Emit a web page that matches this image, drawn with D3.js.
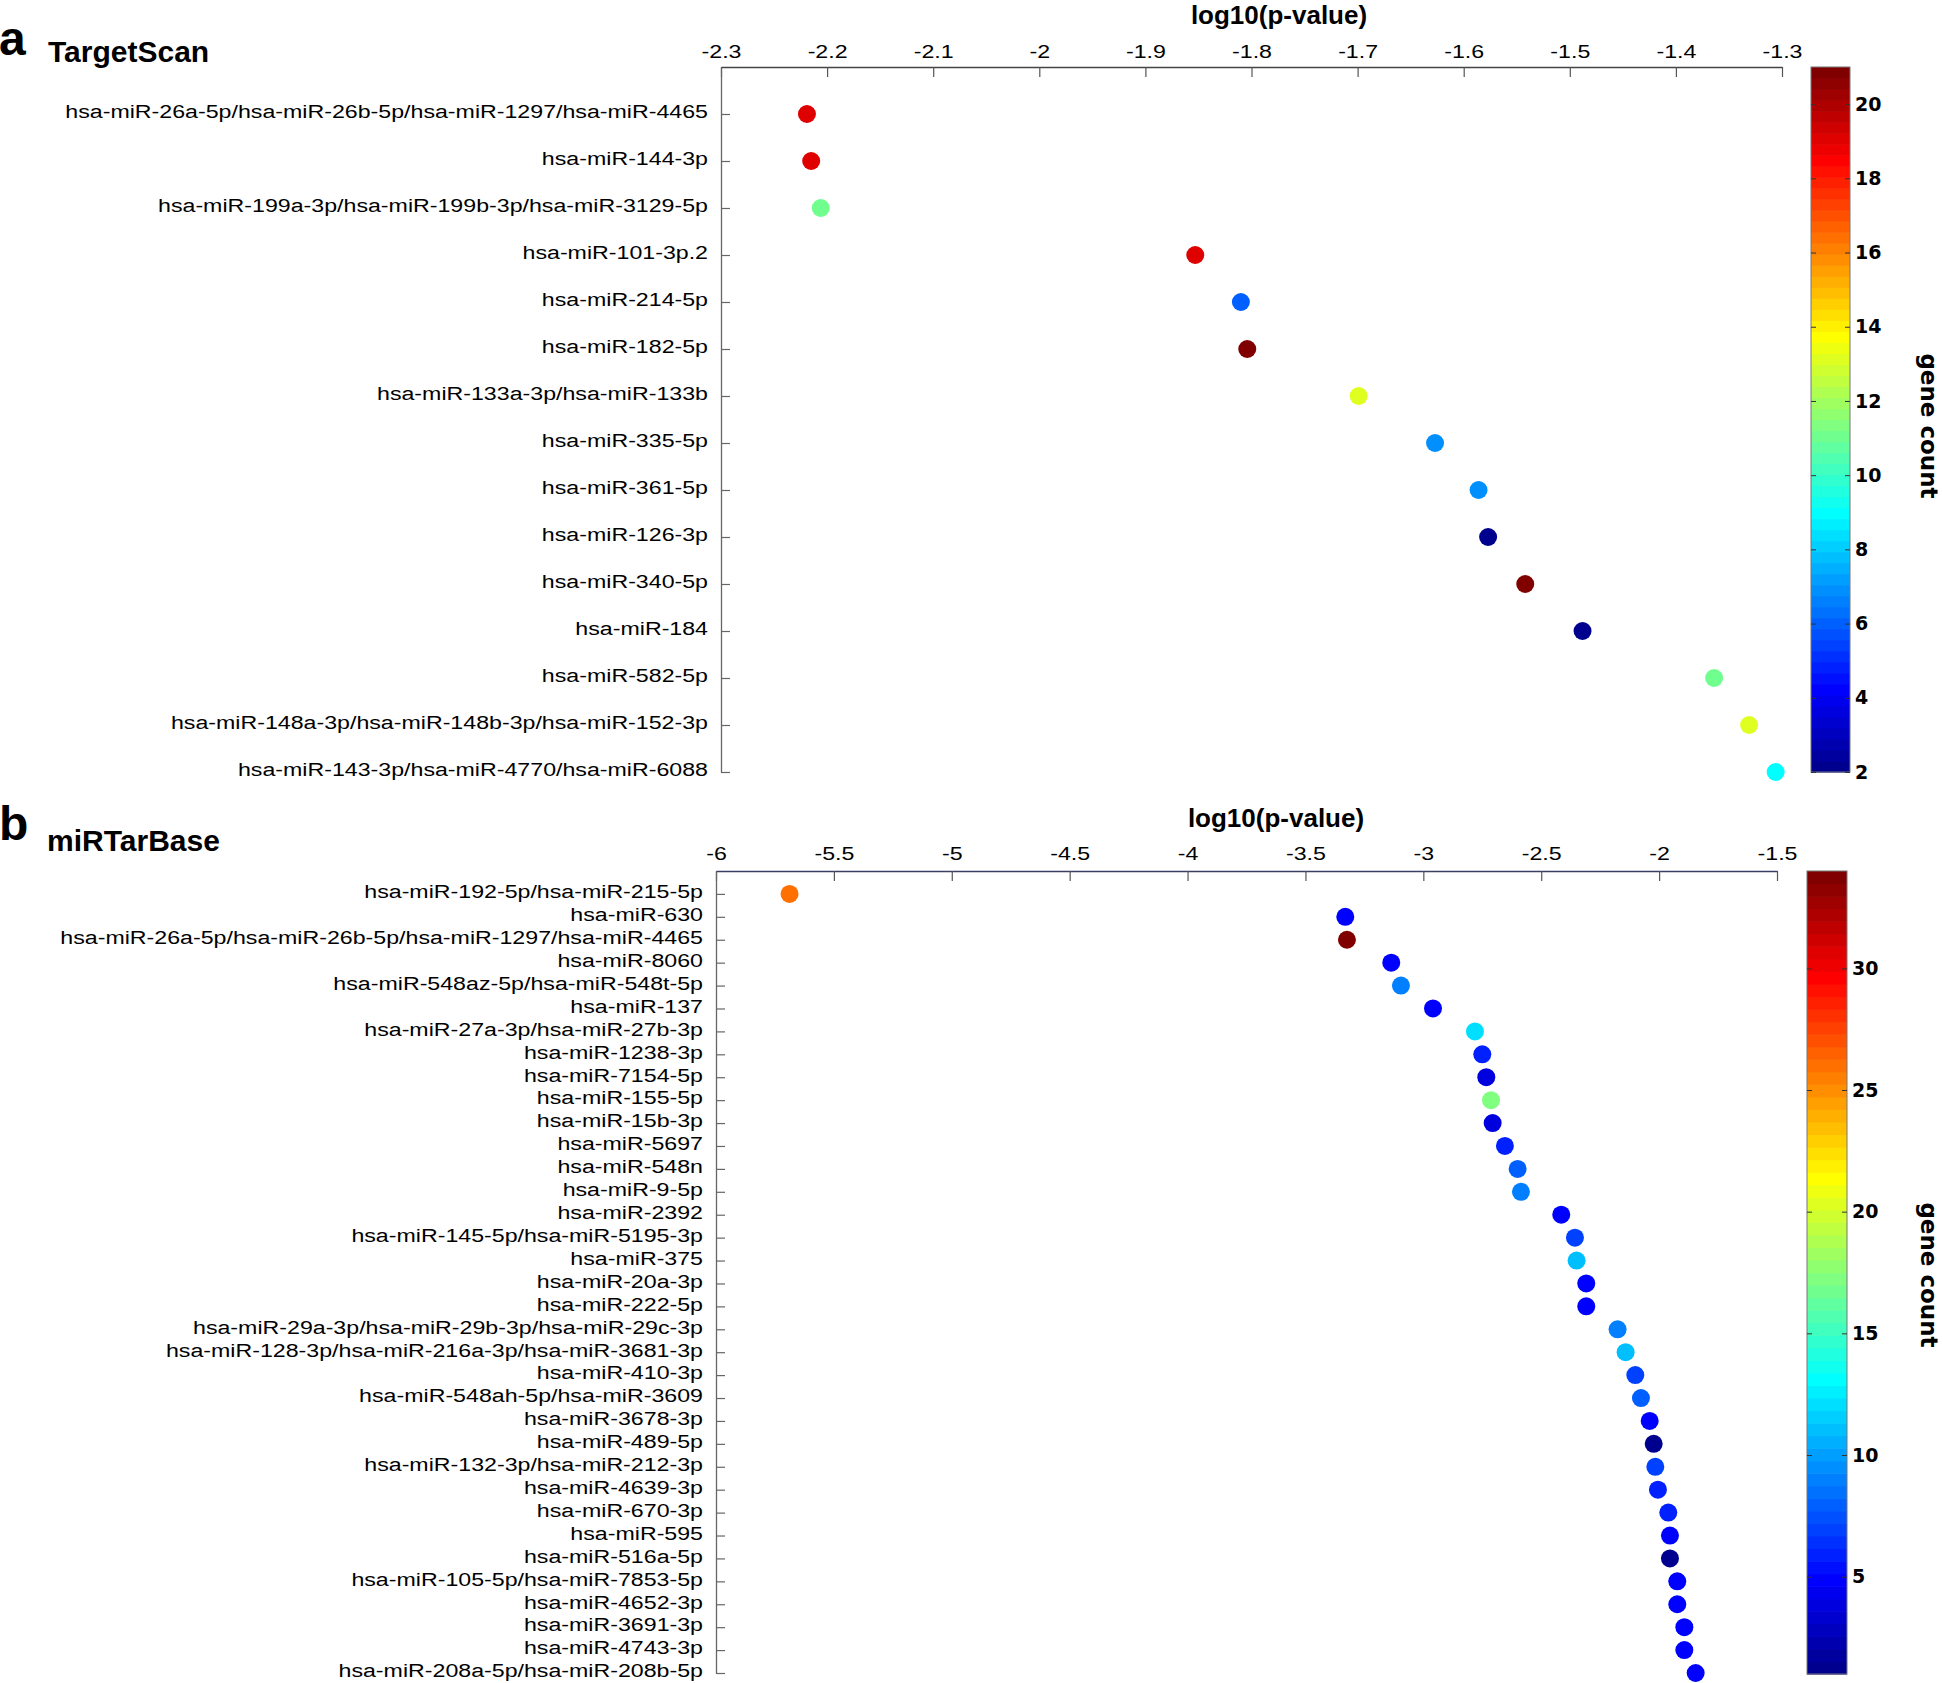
<!DOCTYPE html>
<html>
<head>
<meta charset="utf-8">
<script src="https://cdn.jsdelivr.net/npm/d3@7"></script>
<style>
  html, body { margin: 0; padding: 0; background: #fff; }
  svg { display: block; }
</style>
</head>
<body>
<svg id="chart" width="1943" height="1683"></svg>
<script>
// ---------------- DATA ----------------
const tsLabels = [
  "hsa-miR-26a-5p/hsa-miR-26b-5p/hsa-miR-1297/hsa-miR-4465",
  "hsa-miR-144-3p",
  "hsa-miR-199a-3p/hsa-miR-199b-3p/hsa-miR-3129-5p",
  "hsa-miR-101-3p.2",
  "hsa-miR-214-5p",
  "hsa-miR-182-5p",
  "hsa-miR-133a-3p/hsa-miR-133b",
  "hsa-miR-335-5p",
  "hsa-miR-361-5p",
  "hsa-miR-126-3p",
  "hsa-miR-340-5p",
  "hsa-miR-184",
  "hsa-miR-582-5p",
  "hsa-miR-148a-3p/hsa-miR-148b-3p/hsa-miR-152-3p",
  "hsa-miR-143-3p/hsa-miR-4770/hsa-miR-6088"
];
const tsLogP = [-2.219, -2.215, -2.206, -1.853, -1.810, -1.804, -1.699, -1.627, -1.586, -1.577, -1.542, -1.488, -1.364, -1.331, -1.306];
const tsCount = [19, 19, 11, 19, 6, 21, 13, 7, 7, 2, 21, 2, 11, 13, 9];
const tsTicks = [-2.3, -2.2, -2.1, -2, -1.9, -1.8, -1.7, -1.6, -1.5, -1.4, -1.3];
const tsCbTicks = [2, 4, 6, 8, 10, 12, 14, 16, 18, 20];

const mtLabels = [
  "hsa-miR-192-5p/hsa-miR-215-5p",
  "hsa-miR-630",
  "hsa-miR-26a-5p/hsa-miR-26b-5p/hsa-miR-1297/hsa-miR-4465",
  "hsa-miR-8060",
  "hsa-miR-548az-5p/hsa-miR-548t-5p",
  "hsa-miR-137",
  "hsa-miR-27a-3p/hsa-miR-27b-3p",
  "hsa-miR-1238-3p",
  "hsa-miR-7154-5p",
  "hsa-miR-155-5p",
  "hsa-miR-15b-3p",
  "hsa-miR-5697",
  "hsa-miR-548n",
  "hsa-miR-9-5p",
  "hsa-miR-2392",
  "hsa-miR-145-5p/hsa-miR-5195-3p",
  "hsa-miR-375",
  "hsa-miR-20a-3p",
  "hsa-miR-222-5p",
  "hsa-miR-29a-3p/hsa-miR-29b-3p/hsa-miR-29c-3p",
  "hsa-miR-128-3p/hsa-miR-216a-3p/hsa-miR-3681-3p",
  "hsa-miR-410-3p",
  "hsa-miR-548ah-5p/hsa-miR-3609",
  "hsa-miR-3678-3p",
  "hsa-miR-489-5p",
  "hsa-miR-132-3p/hsa-miR-212-3p",
  "hsa-miR-4639-3p",
  "hsa-miR-670-3p",
  "hsa-miR-595",
  "hsa-miR-516a-5p",
  "hsa-miR-105-5p/hsa-miR-7853-5p",
  "hsa-miR-4652-3p",
  "hsa-miR-3691-3p",
  "hsa-miR-4743-3p",
  "hsa-miR-208a-5p/hsa-miR-208b-5p"
];
const mtLogP = [-5.688, -3.331, -3.324, -3.136, -3.095, -2.959, -2.781, -2.750, -2.733, -2.713, -2.706, -2.654, -2.600, -2.586, -2.415, -2.357, -2.350, -2.309, -2.309, -2.176, -2.142, -2.101, -2.077, -2.040, -2.023, -2.016, -2.005, -1.961, -1.954, -1.954, -1.923, -1.923, -1.893, -1.893, -1.845];
const mtCount = [26, 5, 34, 5, 9, 5, 12, 6, 4, 17, 4, 6, 8, 9, 5, 7, 11, 5, 5, 9, 11, 7, 8, 5, 1, 7, 6, 6, 5, 1, 5, 5, 5, 5, 5];
const mtTicks = [-6, -5.5, -5, -4.5, -4, -3.5, -3, -2.5, -2, -1.5];
const mtCbTicks = [5, 10, 15, 20, 25, 30];

// ---------------- MATLAB jet(64) ----------------
function jet64() {
  const m = 64, n = 16;
  const u = [];
  for (let k = 1; k <= n; k++) u.push(k / n);
  for (let k = 0; k < n - 1; k++) u.push(1);
  for (let k = n; k >= 1; k--) u.push(k / n);
  const J = Array.from({length: m}, () => [0, 0, 0]);
  const gStart = Math.ceil(n / 2) - (m % 4 === 1 ? 1 : 0);
  for (let k = 0; k < u.length; k++) {
    const g = gStart + k + 1, r = g + n, b = g - n;
    if (r >= 1 && r <= m) J[r - 1][0] = u[k];
    if (g >= 1 && g <= m) J[g - 1][1] = u[k];
    if (b >= 1 && b <= m) J[b - 1][2] = u[k];
  }
  return J.map(c => d3.rgb(Math.round(c[0] * 255), Math.round(c[1] * 255), Math.round(c[2] * 255)).formatHex());
}
const JET = jet64();
function colorFor(v, lo, hi) {
  let i = Math.floor((v - lo) / (hi - lo) * 64);
  i = Math.max(0, Math.min(63, i));
  return JET[i];
}

const fmt = d => String(+(+d).toFixed(1));
const svg = d3.select("#chart");
const LABEL_FONT = "'Liberation Sans', Arial, sans-serif";
const SX = 1.22;

function drawPanel(cfg) {
  const g = svg.append("g");
  const n = cfg.labels.length;
  const x = d3.scaleLinear().domain([cfg.ticks[0], cfg.ticks[cfg.ticks.length - 1]]).range([cfg.xl, cfg.xr]);
  const y = d3.scaleLinear().domain([0, n]).range([cfg.yt, cfg.yb]);

  // panel letter & name
  g.append("text").attr("x", cfg.letterX).attr("y", cfg.letterY)
    .attr("font-family", LABEL_FONT).attr("font-weight", "bold").attr("font-size", 48)
    .attr("fill", "#000").text(cfg.letter);
  g.append("text").attr("x", cfg.nameX).attr("y", cfg.nameY)
    .attr("font-family", LABEL_FONT).attr("font-weight", "bold").attr("font-size", 30)
    .attr("fill", "#000").text(cfg.name);

  // x axis title
  g.append("text").attr("x", cfg.titleX).attr("y", cfg.titleY)
    .attr("text-anchor", "middle")
    .attr("font-family", LABEL_FONT).attr("font-weight", "bold").attr("font-size", 26)
    .attr("fill", "#000").text("log10(p-value)");

  // top x axis
  const xa = g.append("g").attr("transform", `translate(0,${cfg.yt})`)
    .call(d3.axisTop(x).tickValues(cfg.ticks).tickFormat(fmt).tickSize(-10).tickSizeOuter(0).tickPadding(cfg.xPad));
  xa.select(".domain").attr("stroke", cfg.xAxisColor).attr("stroke-width", 1.6);
  xa.selectAll(".tick line").attr("stroke", "#555").attr("stroke-width", 1.2);
  xa.selectAll(".tick text").attr("font-family", LABEL_FONT).attr("font-size", 19)
    .attr("fill", "#000").attr("transform", `scale(${SX},1)`);

  // left y axis
  const ya = g.append("g").attr("transform", `translate(${cfg.xl},0)`)
    .call(d3.axisLeft(y).tickValues(d3.range(1, n + 1)).tickFormat(i => cfg.labels[i - 1])
      .tickSize(-9).tickSizeOuter(0).tickPadding(13 / SX));
  ya.select(".domain").attr("stroke", "#666").attr("stroke-width", 1.3);
  ya.selectAll(".tick line").attr("stroke", "#666").attr("stroke-width", 1.2);
  ya.selectAll(".tick text").attr("font-family", LABEL_FONT).attr("font-size", 19)
    .attr("fill", "#000").attr("dy", "0.2em").attr("transform", `scale(${SX},1)`);

  // dots
  g.append("g").selectAll("circle").data(cfg.labels.map((l, i) => ({i, v: cfg.logp[i], c: cfg.count[i]})))
    .join("circle")
    .attr("cx", d => x(d.v)).attr("cy", d => y(d.i + 1)).attr("r", 9)
    .attr("fill", d => colorFor(d.c, cfg.cmin, cfg.cmax));

  // colorbar
  const cy = d3.scaleLinear().domain([cfg.cmin, cfg.cmax]).range([cfg.cbBottom, cfg.yt]);
  const bands = d3.range(64);
  const step = (cfg.cmax - cfg.cmin) / 64;
  g.append("g").selectAll("rect").data(bands).join("rect")
    .attr("x", cfg.cbx).attr("width", cfg.cbw)
    .attr("y", k => cy(cfg.cmin + (k + 1) * step))
    .attr("height", k => cy(cfg.cmin + k * step) - cy(cfg.cmin + (k + 1) * step) + 0.6)
    .attr("fill", k => JET[k]);
  g.append("rect").attr("x", cfg.cbx).attr("y", cfg.yt).attr("width", cfg.cbw)
    .attr("height", cfg.cbBottom - cfg.yt).attr("fill", "none").attr("stroke", "#777").attr("stroke-width", 1);
  const ra = g.append("g").attr("transform", `translate(${cfg.cbx + cfg.cbw},0)`)
    .call(d3.axisRight(cy).tickValues(cfg.cbTicks).tickFormat(d3.format("d")).tickSize(-5).tickSizeOuter(0).tickPadding(5));
  ra.select(".domain").remove();
  ra.selectAll(".tick line").attr("stroke", "#333");
  ra.selectAll(".tick text").attr("font-family", "'DejaVu Sans', Verdana, sans-serif")
    .attr("font-weight", "bold").attr("font-size", 19).attr("fill", "#000");
  const la = g.append("g").attr("transform", `translate(${cfg.cbx},0)`)
    .call(d3.axisLeft(cy).tickValues(cfg.cbTicks).tickFormat("").tickSize(-5).tickSizeOuter(0));
  la.select(".domain").remove();
  la.selectAll(".tick line").attr("stroke", "#333");

  g.append("text").attr("transform", `translate(${cfg.gcX},${cfg.gcY}) rotate(90)`)
    .attr("text-anchor", "middle").attr("dominant-baseline", "central")
    .attr("font-family", "'DejaVu Sans', Verdana, sans-serif").attr("font-weight", "bold")
    .attr("font-size", 23).attr("fill", "#000").text("gene count");
}

drawPanel({
  labels: tsLabels, logp: tsLogP, count: tsCount, ticks: tsTicks, cbTicks: tsCbTicks,
  xl: 721, xr: 1782, yt: 67, yb: 772, xPad: 8.7, xAxisColor: "#444",
  letter: "a", letterX: -1, letterY: 55, name: "TargetScan", nameX: 48, nameY: 62,
  titleX: 1279, titleY: 24,
  cmin: 2, cmax: 21, cbx: 1811, cbw: 39, cbBottom: 772, gcX: 1929, gcY: 426
});
drawPanel({
  labels: mtLabels, logp: mtLogP, count: mtCount, ticks: mtTicks, cbTicks: mtCbTicks,
  xl: 716, xr: 1777, yt: 871, yb: 1673, xPad: 11, xAxisColor: "#3a3f66",
  letter: "b", letterX: -1, letterY: 840, name: "miRTarBase", nameX: 47, nameY: 851,
  titleX: 1276, titleY: 827,
  cmin: 1, cmax: 34, cbx: 1807, cbw: 40, cbBottom: 1674, gcX: 1929, gcY: 1275
});
</script>
</body>
</html>
